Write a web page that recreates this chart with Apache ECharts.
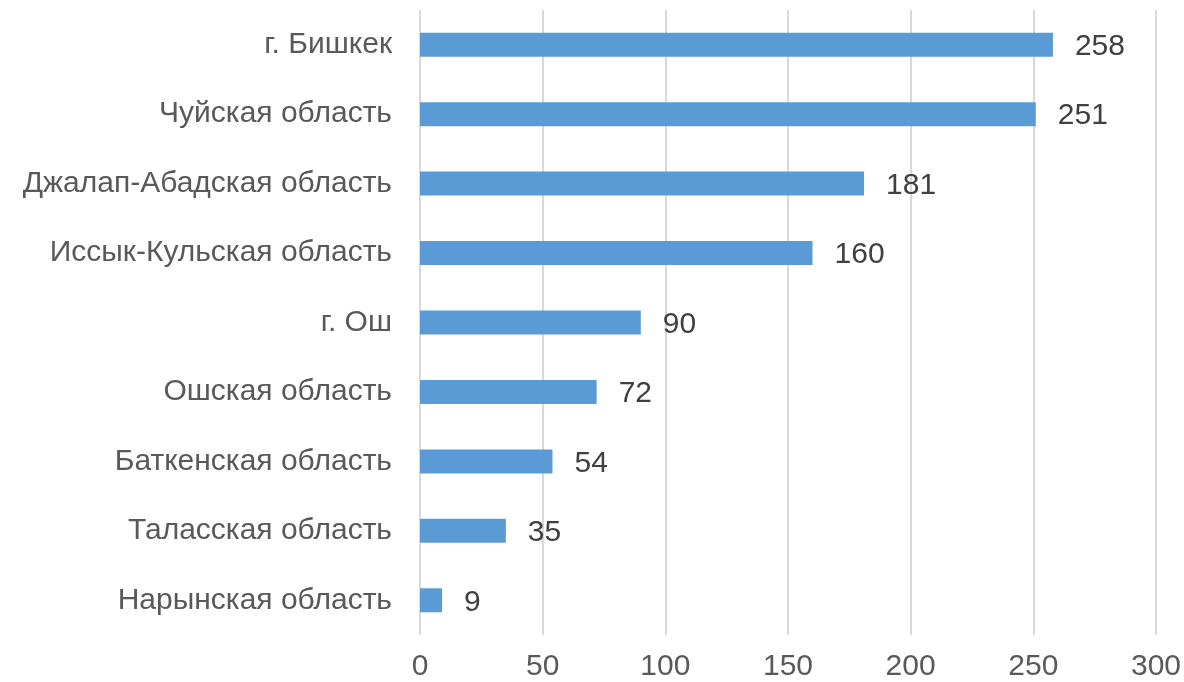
<!DOCTYPE html>
<html>
<head>
<meta charset="utf-8">
<script src="https://cdn.jsdelivr.net/npm/echarts@6/dist/echarts.min.js"></script>
<style>html,body{margin:0;padding:0;background:#fff}#c{width:1184px;height:682px}</style>
</head>
<body>
<div id="c"></div>
<script>
const categories = ["г. Бишкек","Чуйская область","Джалап-Абадская область","Иссык-Кульская область","г. Ош","Ошская область","Баткенская область","Таласская область","Нарынская область"];
const values = [258,251,181,160,90,72,54,35,9];
const xTicks = [0,50,100,150,200,250,300];

const chart = echarts.init(document.getElementById('c'));
const font = 'Liberation Sans, Arial, sans-serif';
chart.setOption({
  animation: false,
  grid: {left: 420, right: 27, top: 10, bottom: 46, containLabel: false},
  xAxis: {
    type: 'value', min: xTicks[0], max: xTicks[xTicks.length-1], interval: 50,
    axisLine: {show: false}, axisTick: {show: false},
    splitLine: {show: true, lineStyle: {color: '#d9d9d9', width: 2}},
    axisLabel: {color: '#595959', fontSize: 30, fontFamily: font, margin: 17}
  },
  yAxis: {
    type: 'category', data: categories.slice().reverse(),
    axisLine: {show: false}, axisTick: {show: false},
    axisLabel: {color: '#595959', fontSize: 30, fontFamily: font, margin: 28, padding: [0, 0, -4, 0]}
  },
  series: [{
    type: 'bar', data: values.slice().reverse(), barWidth: 24,
    itemStyle: {color: '#5b9bd5'},
    label: {show: true, position: 'right', distance: 22, offset: [0, 2], color: '#404040', fontSize: 30, fontFamily: font}
  }]
});
</script>
</body>
</html>
